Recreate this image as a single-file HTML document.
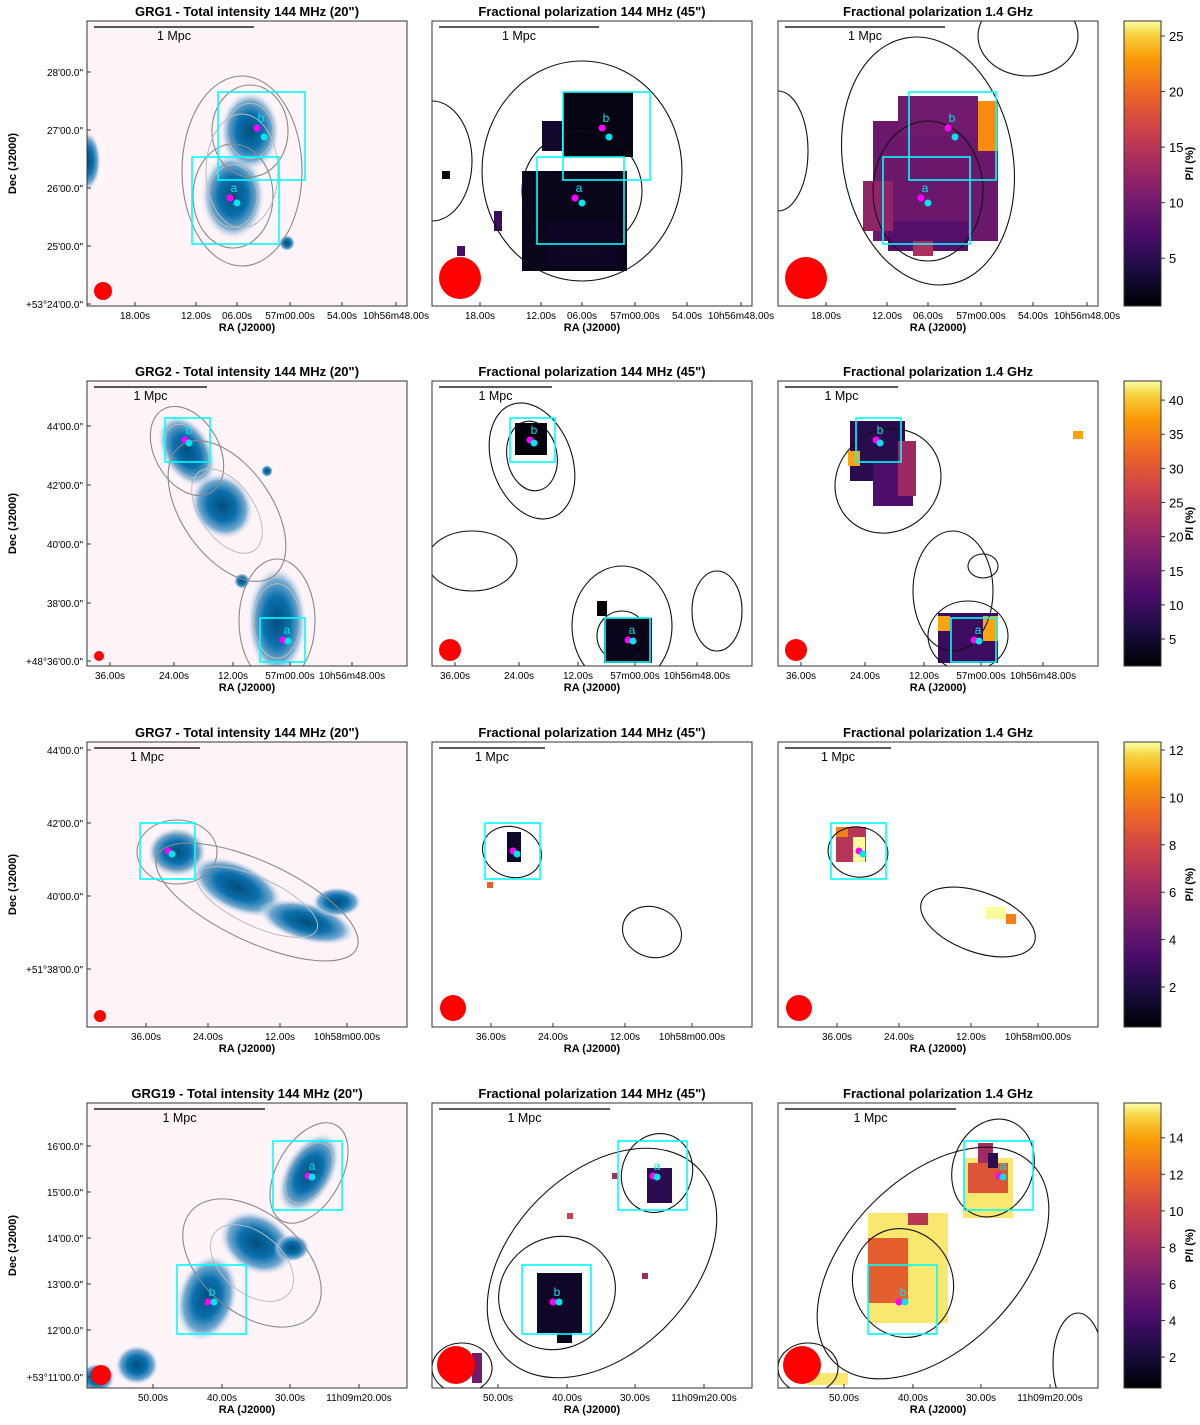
<!DOCTYPE html>
<html><head><meta charset="utf-8"><style>
body{margin:0;background:#fff;font-family:"Liberation Sans","DejaVu Sans",sans-serif}
svg text{font-family:"Liberation Sans","DejaVu Sans",sans-serif}
</style></head><body>
<svg id="fig" width="1200" height="1420" viewBox="0 0 1200 1420" xmlns="http://www.w3.org/2000/svg">
<defs>
<linearGradient id="inferno" x1="0" y1="1" x2="0" y2="0">
<stop offset="0" stop-color="#000004"/><stop offset="0.13" stop-color="#1b0c41"/><stop offset="0.25" stop-color="#4a0c6b"/><stop offset="0.38" stop-color="#781c6d"/><stop offset="0.5" stop-color="#a52c60"/><stop offset="0.63" stop-color="#cf4446"/><stop offset="0.75" stop-color="#ed6925"/><stop offset="0.87" stop-color="#fb9b06"/><stop offset="0.95" stop-color="#f7d13d"/><stop offset="1" stop-color="#fcffa4"/>
</linearGradient>
<radialGradient id="blob"><stop offset="0" stop-color="#034e7b"/><stop offset="0.45" stop-color="#0a70ad"/><stop offset="0.75" stop-color="#74a9cf"/><stop offset="1" stop-color="#f3eef6" stop-opacity="0"/></radialGradient>
</defs>
</svg>
<script>
// ---- data ----
const rowTop=[21,381,742,1103];
const panelLeft=[87,432,778];
const PW=320, PH=285;
const names=["GRG1","GRG2","GRG7","GRG19"];
const decTicks=[["28'00.0\"","27'00.0\"","26'00.0\"","25'00.0\"","+53°24'00.0\""],["44'00.0\"","42'00.0\"","40'00.0\"","38'00.0\"","+48°36'00.0\""],["44'00.0\"","42'00.0\"","40'00.0\"","+51°38'00.0\""],["16'00.0\"","15'00.0\"","14'00.0\"","13'00.0\"","12'00.0\"","+53°11'00.0\""]];
const decPos=[[51,109,167,225,283],[45,104,163,222,280],[8,81,154,227],[43,89,135,181,227,274]];
const raTicks=[["18.00s","12.00s","06.00s","57m00.00s","54.00s","10h56m48.00s"],["36.00s","24.00s","12.00s","57m00.00s","10h56m48.00s"],["36.00s","24.00s","12.00s","10h58m00.00s"],["50.00s","40.00s","30.00s","11h09m20.00s"]];
const raPos=[[48,109,150,203,255,309],[23,87,146,203,265],[59,121,193,260],[66,135,203,272]];
const cbTicks=[[25,20,15,10,5],[40,35,30,25,20,15,10,5],[12,10,8,6,4,2],[14,12,10,8,6,4,2]];
const cbMin=[0.7,1.05,0.31,0.31];
const cbMax=[26.35,42.8,12.34,15.9];
const scaleBar=[[7,167],[7,120],[7,113],[7,178]];
const beamTI=[[16,270,9],[12,275,5],[13,274,6],[14,272,10]];
const beamPol=[[28,257,21],[18,269,11],[21,266,13],[24,262,19]];
const boxes=[[[105,136,87,87,"a"],[131,71,87,88,"b"]],[[78,37,45,44,"b"],[173,237,45,44,"a"]],[[53,81,55,56,""]],[[186,38,69,69,"a"],[90,162,69,69,"b"]]];
const dots=[[[143,177,148,180],[170,107,175,114]],[[98,59,100,60],[196,259,199,258]],[[81,109,83,110]],[[221,73,223,72],[121,199,125,197]]];
// total-intensity blobs [cx,cy,rx,ry,rot]
const blobs=[[[146,175,32,44,0],[163,110,30,40,0],[0,140,14,30,0],[200,222,8,8,0]],
[[100,70,25,40,-30],[135,125,30,35,-35],[190,240,30,55,0],[155,200,8,8,0],[180,90,6,6,0]],
[[90,110,30,25,0],[150,145,50,25,25],[220,180,50,20,15],[250,160,25,15,0]],
[[222,70,25,45,30],[170,140,40,30,30],[120,195,30,45,15],[205,145,18,14,0],[50,262,22,20,0],[10,275,18,15,0]]];
// contours [panelIdx,cx,cy,rx,ry,rot]
const contours=[[[0,146,175,40,52,0],[0,163,110,38,46,0],[0,155,150,60,95,0],[1,150,150,100,110,0],[1,150,170,60,60,0],[1,0,140,40,60,0],[2,150,140,85,125,-10],[2,150,170,55,70,0],[2,0,130,30,60,0],[2,250,15,50,40,0]],
[[0,100,70,32,48,-30],[0,140,130,45,80,-35],[0,190,240,38,62,0],[1,100,80,40,60,-20],[1,100,75,25,35,-10],[1,190,245,50,60,0],[1,190,255,25,25,0],[1,40,180,45,30,0],[1,285,230,25,40,0],[2,110,100,55,50,-40],[2,190,255,40,35,0],[2,175,210,40,60,0],[2,205,185,15,12,0]],
[[0,90,110,40,32,0],[0,170,160,110,40,25],[1,80,110,30,25,20],[1,220,190,30,25,20],[2,80,110,30,25,10],[2,200,180,60,30,20]],
[[0,222,70,32,55,30],[0,165,160,80,50,40],[1,170,160,135,90,-45],[1,125,190,60,55,-35],[1,225,70,35,40,20],[1,30,265,30,25,0],[2,155,160,140,85,-45],[2,125,180,50,55,-20],[2,215,65,40,50,20],[2,30,265,30,25,0],[2,300,260,25,50,0]]];
// polarization pixel regions per row: [panel(1|2), x, y, w, h, P/I %]
const pix=[[[1,90,150,105,100,2.0],[1,115,200,70,45,2.5],[1,131,71,70,65,1.5],[1,110,100,20,30,3],[1,10,150,8,8,1],[1,25,225,8,10,7],[1,62,190,8,20,6],[2,95,100,125,120,9.5],[2,120,75,80,40,10],[2,200,80,20,50,22],[2,110,200,80,30,8],[2,85,160,30,50,12],[2,135,220,20,15,14]],
[[1,83,42,32,32,1.5],[1,172,237,48,45,3],[1,165,220,10,15,1],[2,72,40,55,60,8],[2,95,80,40,45,12],[2,120,60,18,55,21],[2,70,70,12,15,38],[2,160,232,60,50,10],[2,160,235,12,15,38],[2,205,235,15,25,38],[2,295,50,10,8,38]],
[[1,75,90,14,30,1.2],[1,55,140,6,6,9],[2,58,85,30,35,7],[2,58,85,12,10,10],[2,75,95,12,25,12.3],[2,208,165,20,12,12.3],[2,228,172,10,10,10]],
[[1,105,170,45,60,1.5],[1,125,230,15,10,1.2],[1,215,65,25,35,3],[1,180,70,6,6,8],[1,135,110,6,6,10],[1,210,170,6,6,8],[1,40,250,10,30,6],[2,90,110,80,110,15.5],[2,90,135,40,65,11.5],[2,130,110,20,12,9],[2,185,55,50,60,15.5],[2,200,40,15,20,8],[2,190,60,40,30,11],[2,210,50,10,15,3],[2,30,270,40,12,15.5]]];

// ---- drawing ----
const NS="http://www.w3.org/2000/svg";
const fig=document.getElementById('fig');
function mk(tag,attrs,parent,txt){const e=document.createElementNS(NS,tag);for(const k in attrs)e.setAttribute(k,attrs[k]);if(txt!==undefined)e.textContent=txt;(parent||fig).appendChild(e);return e;}
const stops=[[0,[0,0,4]],[0.13,[27,12,65]],[0.25,[74,12,107]],[0.38,[120,28,109]],[0.5,[165,44,96]],[0.63,[207,68,70]],[0.75,[237,105,37]],[0.87,[251,155,6]],[0.95,[247,209,61]],[1,[252,255,164]]];
function inferno(t){t=Math.max(0,Math.min(1,t));for(let i=1;i<stops.length;i++){if(t<=stops[i][0]){const a=stops[i-1],b=stops[i],f=(t-a[0])/(b[0]-a[0]);const c=a[1].map((v,j)=>Math.round(v+(b[1][j]-v)*f));return`rgb(${c})`;}}return'rgb(252,255,164)';}
const titles=["Total intensity 144 MHz (20\")","Fractional polarization 144 MHz (45\")","Fractional polarization 1.4 GHz"];
for(let r=0;r<4;r++){
  const y0=rowTop[r];
  const norm=v=>(v-cbMin[r])/(cbMax[r]-cbMin[r]);
  for(let p=0;p<3;p++){
    const x0=panelLeft[p];
    const g=mk('g',{transform:`translate(${x0},${y0})`});
    
    
    const cid=`clip${r}${p}`;
    const cp=mk('clipPath',{id:cid},g);mk('rect',{x:0,y:0,width:PW,height:PH},cp);
    const inner=mk('g',{'clip-path':`url(#${cid})`},g);
    mk('rect',{x:0,y:0,width:PW,height:PH,fill:p===0?'#fff5f9':'#fff'},inner);
    if(p===0){
      blobs[r].forEach(b=>{const e=mk('ellipse',{cx:b[0],cy:b[1],rx:b[2],ry:b[3],fill:'url(#blob)',transform:`rotate(${b[4]} ${b[0]} ${b[1]})`},inner);});
    } else {
      pix[r].filter(q=>q[0]===p).forEach(q=>{const e=mk('rect',{x:q[1],y:q[2],width:q[3],height:q[4],fill:inferno(norm(q[5]))},inner);});
    }
    contours[r].filter(c=>c[0]===p).forEach(c=>{
      const e=mk('ellipse',{cx:c[1],cy:c[2],rx:c[3],ry:c[4],fill:'none',stroke:p===0?'#888':'#111','stroke-width':1.1,transform:`rotate(${c[5]} ${c[1]} ${c[2]})`},inner);
      
      if(p===0){const e2=mk('ellipse',{cx:c[1],cy:c[2],rx:c[3]*0.6,ry:c[4]*0.6,fill:'none',stroke:'#bbb','stroke-width':1,transform:`rotate(${c[5]} ${c[1]} ${c[2]})`},inner);}
    });
    boxes[r].forEach(b=>{const e=mk('rect',{x:b[0],y:b[1],width:b[2],height:b[3],fill:'none',stroke:'#00ffff','stroke-width':1.6},inner);});
    dots[r].forEach((d,i)=>{
      mk('circle',{cx:d[0],cy:d[1],r:3.5,fill:'#ff00ff'},inner);
      mk('circle',{cx:d[2]+2,cy:d[3]+2,r:3.5,fill:'#00e5ee'},inner);
      const lab=boxes[r][i]?boxes[r][i][4]:'';
      if(lab){const t=mk('text',{x:d[0]+4,y:d[1]-6,'font-size':12,fill:'#00e5ee','text-anchor':'middle'},inner,lab);}
    });
    const bm=p===0?beamTI[r]:beamPol[r];
    const bc=mk('circle',{cx:bm[0],cy:bm[1],r:bm[2],fill:'#ff0000'},inner);
    const sb=scaleBar[r];
    mk('line',{x1:sb[0],x2:sb[1],y1:6,y2:6,stroke:'#222','stroke-width':1.5},inner);
    mk('text',{x:(sb[0]+sb[1])/2,y:19,'font-size':12.5,'text-anchor':'middle'},inner,'1 Mpc');
    const fr=mk('rect',{x:0,y:0,width:PW,height:PH,fill:'none',stroke:'#333','stroke-width':1},g);
    const tt=mk('text',{x:PW/2,y:-5,'font-size':13,'font-weight':'bold','text-anchor':'middle'},g,(p===0?names[r]+' - ':'')+titles[p]);
    
    raTicks[r].forEach((l,i)=>{const x=raPos[r][i];mk('line',{x1:x,x2:x,y1:PH,y2:PH-4,stroke:'#333'},g);mk('text',{x:x,y:PH+13,'font-size':10,'text-anchor':'middle'},g,l);});
    mk('text',{x:PW/2,y:PH+25,'font-size':11,'font-weight':'bold','text-anchor':'middle'},g,'RA (J2000)');
    if(p===0){
      decTicks[r].forEach((l,i)=>{const y=decPos[r][i];mk('line',{x1:0,x2:4,y1:y,y2:y,stroke:'#333'},g);mk('text',{x:-4,y:y+4,'font-size':10,'text-anchor':'end'},g,l);});
      mk('text',{x:-71,y:PH/2,'font-size':11,'font-weight':'bold','text-anchor':'middle',transform:`rotate(-90 -71 ${PH/2})`},g,'Dec (J2000)');
    }
  }
  // colorbar
  const cb=mk('g',{transform:`translate(1124,${y0})`});
  
  
  mk('rect',{x:0,y:0,width:37,height:PH,fill:'url(#inferno)',stroke:'#333'},cb);
  cbTicks[r].forEach(v=>{const y=PH*(1-norm(v));mk('line',{x1:37,x2:41,y1:y,y2:y,stroke:'#333'},cb);mk('text',{x:45,y:y+5,'font-size':13},cb,String(v));});
  mk('text',{x:69,y:PH/2,'font-size':11,'font-weight':'bold','text-anchor':'middle',transform:`rotate(-90 69 ${PH/2})`},cb,'P/I (%)');
}
</script>
</body></html>
